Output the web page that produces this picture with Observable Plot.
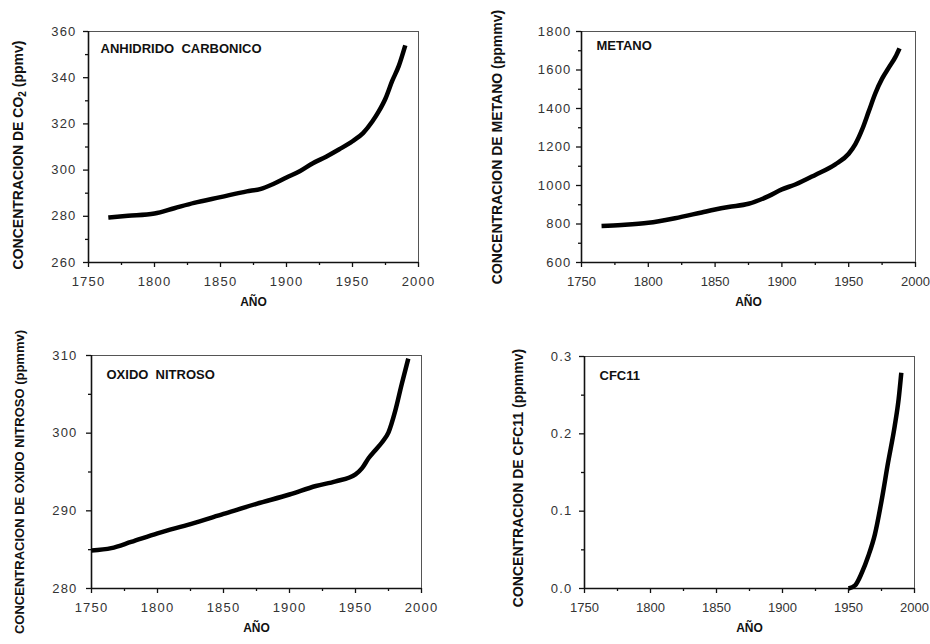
<!DOCTYPE html>
<html>
<head>
<meta charset="utf-8">
<script src="https://cdn.jsdelivr.net/npm/d3@7"></script>
<script src="https://cdn.jsdelivr.net/npm/@observablehq/plot@0.6"></script>
<style>
  html, body { margin: 0; padding: 0; background: #fff; }
  #root { position: relative; width: 930px; height: 644px; overflow: hidden; background: #fff;
          font-family: "Liberation Sans", Arial, Helvetica, sans-serif; }
  .panel { position: absolute; }
  .panel svg { overflow: visible; }
  .panel g[aria-label$="tick label"] text { letter-spacing: 1.2px; }
  .panel.right g[aria-label="x-axis tick label"] text { letter-spacing: 0px; }
  .ylab { position: absolute; white-space: nowrap; font-weight: bold; font-size: 14px; color: #111;
          transform: translate(-50%, -50%) rotate(-90deg); line-height: 1; }
  .ylab sub { font-size: 10px; vertical-align: -3px; }
</style>
</head>
<body>
<div id="root"></div>
<script>
// ---- data ----
const xTicks = [1750, 1800, 1850, 1900, 1950, 2000];
const xMinor = [1775, 1825, 1875, 1925, 1975];

const co2Years  = [1765, 1780, 1800, 1815, 1830, 1850, 1870, 1880, 1890, 1900, 1910, 1920, 1930, 1940, 1950, 1958, 1965, 1970, 1975, 1980, 1985, 1990];
const co2Values = [279.5, 280.2, 281.2, 283.5, 285.8, 288.3, 290.8, 291.8, 294, 296.8, 299.5, 303, 305.8, 309, 312.5, 316, 321, 325.5, 331, 338.5, 345, 354];
const co2Ticks = [260, 280, 300, 320, 340, 360];
const co2Minor = [270, 290, 310, 330, 350];

const ch4Years  = [1765, 1780, 1800, 1820, 1840, 1850, 1860, 1875, 1890, 1900, 1910, 1925, 1940, 1950, 1955, 1960, 1965, 1970, 1975, 1980, 1985, 1988];
const ch4Values = [790, 795, 806, 830, 860, 875, 888, 905, 945, 980, 1005, 1055, 1110, 1165, 1215, 1290, 1385, 1480, 1555, 1612, 1668, 1712];
const ch4Ticks = [600, 800, 1000, 1200, 1400, 1600, 1800];
const ch4Minor = [700, 900, 1100, 1300, 1500, 1700];

const n2oYears  = [1750, 1765, 1780, 1800, 1825, 1850, 1875, 1900, 1920, 1935, 1950, 1955, 1960, 1965, 1970, 1975, 1980, 1985, 1990];
const n2oValues = [284.9, 285.2, 286, 287.1, 288.3, 289.6, 290.9, 292.1, 293.2, 293.8, 294.7, 295.5, 296.8, 297.8, 298.8, 300.1, 302.8, 306.3, 309.6];
const n2oTicks = [280, 290, 300, 310];
const n2oMinor = [285, 295, 305];

const cfcYears  = [1950, 1955, 1960, 1965, 1970, 1975, 1980, 1985, 1988, 1990];
const cfcValues = [0, 0.004, 0.02, 0.042, 0.07, 0.113, 0.163, 0.21, 0.245, 0.279];
const cfcTicks = [0, 0.1, 0.2, 0.3];
const cfcMinor = [0.05, 0.15, 0.25];

const titles = ["ANHIDRIDO\u00a0\u00a0CARBONICO", "METANO", "OXIDO\u00a0\u00a0NITROSO", "CFC11"];
const xLabel = "AÑO";
const yLabels = [
  'CONCENTRACION DE CO<sub>2</sub> (ppmv)',
  'CONCENTRACION DE METANO (ppmmv)',
  'CONCENTRACION DE OXIDO NITROSO (ppmmv)',
  'CONCENTRACION DE CFC11 (ppmmv)'
];

// ---- layout ----
const panels = [
  {years: co2Years, values: co2Values, yTicks: co2Ticks, yMinor: co2Minor, fmt: d3.format("d"),
   left: 0, top: 0, mL: 88, mR: 47, mT: 31, mB: 60, tdx: 12, tdy: 17, pad: 7,
   labX: 19, labY: 155, labSize: 14, side: "left"},
  {years: ch4Years, values: ch4Values, yTicks: ch4Ticks, yMinor: ch4Minor, fmt: d3.format("d"),
   left: 465, top: 0, mL: 116, mR: 15, mT: 31, mB: 60, tdx: 15, tdy: 14, pad: 5,
   labX: 497, labY: 147, labSize: 14, side: "right"},
  {years: n2oYears, values: n2oValues, yTicks: n2oTicks, yMinor: n2oMinor, fmt: d3.format("d"),
   left: 0, top: 322, mL: 91, mR: 44, mT: 33, mB: 56, tdx: 15, tdy: 19, pad: 9,
   labX: 19, labY: 482, labSize: 13, side: "left"},
  {years: cfcYears, values: cfcValues, yTicks: cfcTicks, yMinor: cfcMinor, fmt: d3.format(".1f"),
   left: 465, top: 322, mL: 119, mR: 16, mT: 34, mB: 56, tdx: 15, tdy: 19, pad: 7,
   labX: 518, labY: 478, labSize: 14, side: "right"}
];

const root = document.getElementById("root");

panels.forEach((p, i) => {
  const data = p.years.map((y, k) => ({year: y, value: p.values[k]}));
  const yDomain = [p.yTicks[0], p.yTicks[p.yTicks.length - 1]];
  const chart = Plot.plot({
    width: 465,
    height: 322,
    marginLeft: p.mL, marginRight: p.mR, marginTop: p.mT, marginBottom: p.mB,
    style: {fontFamily: '"Liberation Sans", Arial, Helvetica, sans-serif', fontSize: "13px", background: "transparent", color: "#111"},
    x: {domain: [1750, 2000]},
    y: {domain: yDomain},
    marks: [
      Plot.frame({stroke: "#555", strokeWidth: 1}),
      Plot.axisX(xTicks, {tickSize: 5, tickPadding: 9, tickFormat: d3.format("d"), fontSize: 13, fill: "#333", label: null, strokeWidth: 1.3}),
      Plot.axisX(xMinor, {tickSize: 3, fill: "none", label: null, strokeWidth: 1.3}),
      Plot.axisY(p.yTicks, {tickSize: 5, tickPadding: p.pad, tickFormat: p.fmt, fontSize: 13, fill: "#333", label: null, strokeWidth: 1.3}),
      Plot.axisY(p.yMinor, {tickSize: 3, fill: "none", label: null, strokeWidth: 1.3}),
      Plot.ruleY([yDomain[0]], {stroke: "#111", strokeWidth: 1.6}),
      Plot.ruleX([1750], {stroke: "#111", strokeWidth: 1.6}),
      Plot.line(data, {x: "year", y: "value", curve: "monotone-x", stroke: "#000", strokeWidth: 4.5, strokeLinecap: "butt", strokeLinejoin: "round"}),
      Plot.text([titles[i]], {text: d => d, frameAnchor: "top-left", dx: p.tdx, dy: p.tdy, textAnchor: "start", lineAnchor: "middle", fontWeight: "bold", fontSize: 13, fill: "#111"}),
      Plot.text([xLabel], {text: d => d, frameAnchor: "bottom", dy: 40, lineAnchor: "middle", fontWeight: "bold", fontSize: 12, fill: "#111"})
    ]
  });
  const wrap = document.createElement("div");
  wrap.className = "panel " + p.side;
  wrap.style.left = p.left + "px";
  wrap.style.top = p.top + "px";
  wrap.appendChild(chart);
  root.appendChild(wrap);

  const lab = document.createElement("div");
  lab.className = "ylab";
  lab.style.left = p.labX + "px";
  lab.style.top = p.labY + "px";
  lab.style.fontSize = p.labSize + "px";
  lab.innerHTML = yLabels[i];
  root.appendChild(lab);
});
</script>
</body>
</html>
